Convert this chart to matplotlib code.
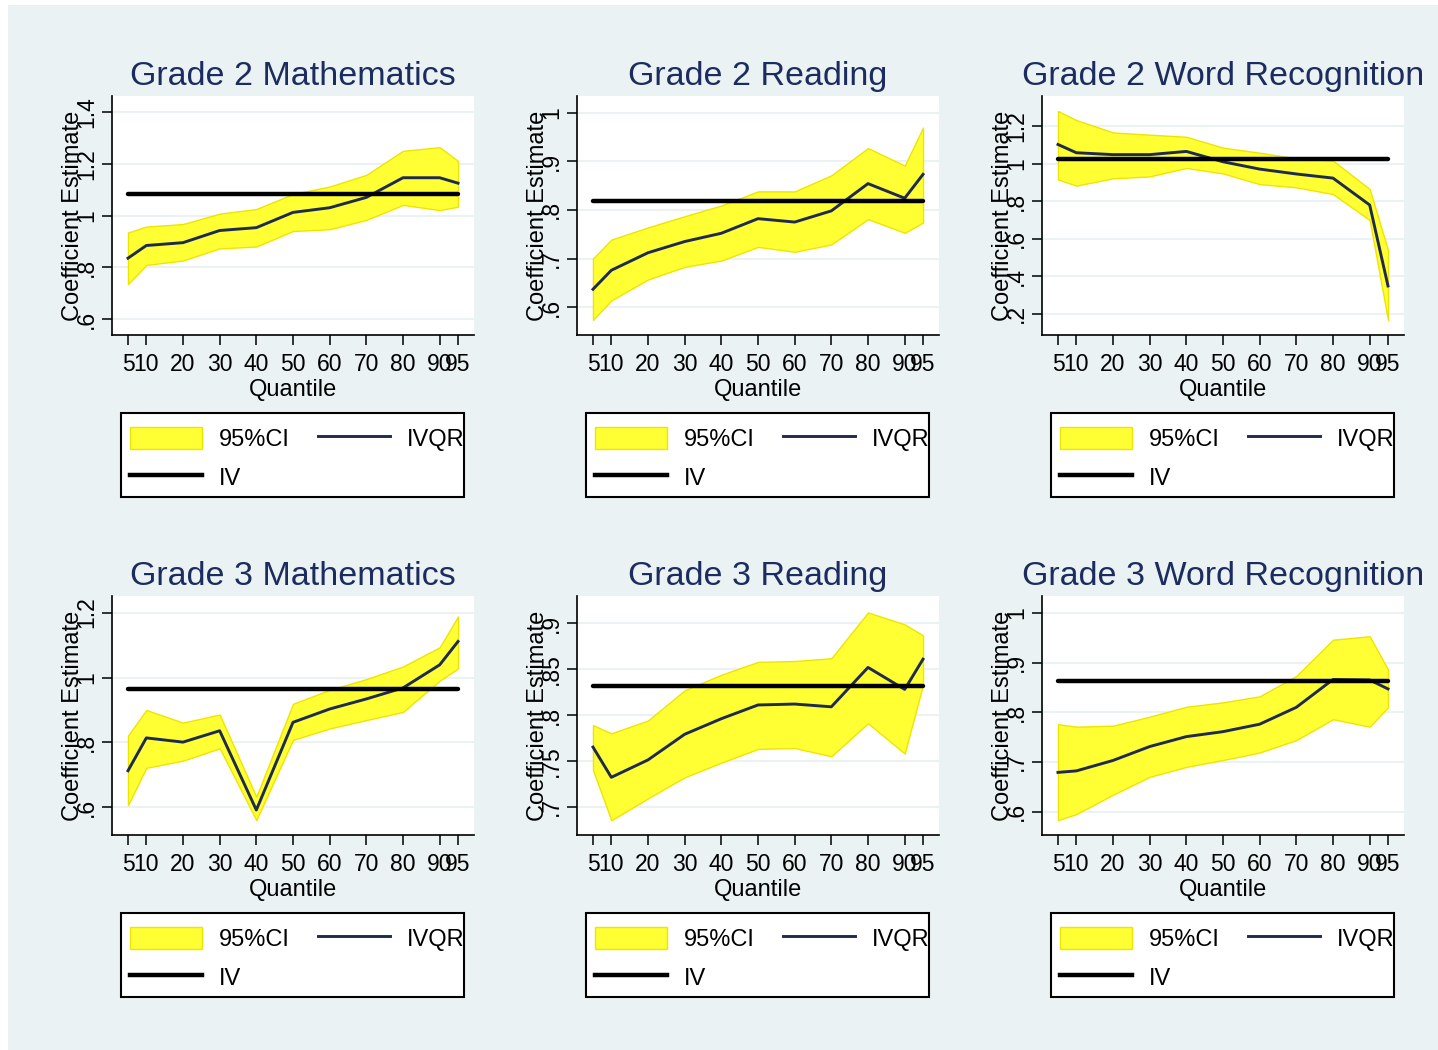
import numpy as np
import matplotlib.pyplot as plt
from matplotlib.patches import Rectangle, Patch
from matplotlib.lines import Line2D

plt.rcParams['font.family'] = ['Liberation Sans', 'DejaVu Sans']

# quantiles at which the IVQR coefficients were estimated
quantiles = [5, 10, 20, 30, 40, 50, 60, 70, 80, 90, 95]

titles = ["Grade 2 Mathematics", "Grade 2 Reading", "Grade 2 Word Recognition",
          "Grade 3 Mathematics", "Grade 3 Reading", "Grade 3 Word Recognition"]

# IVQR point estimates
ivqr_g2_math = [0.836, 0.885, 0.896, 0.943, 0.954, 1.013, 1.031, 1.071, 1.147, 1.147, 1.126]
ivqr_g2_read = [0.637, 0.676, 0.712, 0.735, 0.752, 0.782, 0.775, 0.798, 0.854, 0.824, 0.873]
ivqr_g2_word = [1.102, 1.058, 1.048, 1.048, 1.065, 1.010, 0.971, 0.945, 0.923, 0.780, 0.349]
ivqr_g3_math = [0.713, 0.814, 0.801, 0.836, 0.592, 0.862, 0.903, 0.934, 0.968, 1.039, 1.111]
ivqr_g3_read = [0.765, 0.732, 0.751, 0.779, 0.796, 0.811, 0.812, 0.809, 0.852, 0.828, 0.861]
ivqr_g3_word = [0.679, 0.682, 0.703, 0.731, 0.751, 0.761, 0.776, 0.810, 0.866, 0.865, 0.847]

# upper bounds of the 95% confidence intervals
upper_g2_math = [0.935, 0.958, 0.968, 1.008, 1.026, 1.084, 1.113, 1.158, 1.251, 1.265, 1.212]
upper_g2_read = [0.700, 0.739, 0.764, 0.787, 0.809, 0.838, 0.838, 0.871, 0.927, 0.891, 0.969]
upper_g2_word = [1.280, 1.232, 1.166, 1.154, 1.143, 1.085, 1.058, 1.028, 1.016, 0.865, 0.540]
upper_g3_math = [0.821, 0.900, 0.861, 0.886, 0.633, 0.919, 0.962, 0.995, 1.034, 1.093, 1.188]
upper_g3_read = [0.789, 0.780, 0.794, 0.827, 0.844, 0.858, 0.859, 0.862, 0.912, 0.899, 0.887]
upper_g3_word = [0.776, 0.771, 0.773, 0.791, 0.811, 0.820, 0.832, 0.873, 0.946, 0.953, 0.886]

# lower bounds of the 95% confidence intervals
lower_g2_math = [0.736, 0.810, 0.827, 0.874, 0.881, 0.941, 0.948, 0.984, 1.042, 1.022, 1.035]
lower_g2_read = [0.574, 0.614, 0.657, 0.683, 0.696, 0.724, 0.714, 0.729, 0.781, 0.753, 0.774]
lower_g2_word = [0.916, 0.883, 0.922, 0.932, 0.977, 0.948, 0.891, 0.874, 0.838, 0.700, 0.168]
lower_g3_math = [0.607, 0.722, 0.744, 0.782, 0.561, 0.808, 0.843, 0.869, 0.894, 0.990, 1.028]
lower_g3_read = [0.740, 0.685, 0.709, 0.732, 0.748, 0.763, 0.764, 0.755, 0.791, 0.758, 0.833]
lower_g3_word = [0.583, 0.595, 0.634, 0.670, 0.690, 0.704, 0.719, 0.744, 0.786, 0.771, 0.810]

# 2SLS (IV) estimates, constant across quantiles
iv_estimates = [1.084, 0.819, 1.024, 0.964, 0.832, 0.863]

y_ticks = [[0.6, 0.8, 1.0, 1.2, 1.4],
           [0.6, 0.7, 0.8, 0.9, 1.0],
           [0.2, 0.4, 0.6, 0.8, 1.0, 1.2],
           [0.6, 0.8, 1.0, 1.2],
           [0.7, 0.75, 0.8, 0.85, 0.9],
           [0.6, 0.7, 0.8, 0.9, 1.0]]
y_limits = [(0.539, 1.463), (0.543, 1.034), (0.088, 1.36),
            (0.515, 1.251), (0.669, 0.930), (0.553, 1.034)]

ivqr = [ivqr_g2_math, ivqr_g2_read, ivqr_g2_word, ivqr_g3_math, ivqr_g3_read, ivqr_g3_word]
upper = [upper_g2_math, upper_g2_read, upper_g2_word, upper_g3_math, upper_g3_read, upper_g3_word]
lower = [lower_g2_math, lower_g2_read, lower_g2_word, lower_g3_math, lower_g3_read, lower_g3_word]

BG = '#eaf2f3'
TITLE_COL = '#1c2c5e'
NAVY = '#1e2b4f'
YELLOW = '#ffff33'

W, H = 1438, 1050
fig = plt.figure(figsize=(W / 100, H / 100), dpi=100, facecolor='white')
fig.patches.append(Rectangle((8 / W, 0), 1 - 8 / W, 1 - 5 / H,
                             transform=fig.transFigure, facecolor=BG,
                             edgecolor='none', zorder=-10))


def stata_label(v):
    s = f"{v:g}"
    return s[1:] if s.startswith("0.") else s


def fig_box(x, y, w, h):
    # pixel box (from top-left) -> figure fraction rect
    return [x / W, 1 - (y + h) / H, w / W, h / H]


col_left = [112, 577, 1042]
row_top = [96, 596]
ax_w, ax_h = 362, 239
leg_fs = 17
leg_pad = 0.58  # in font-size units
pad_px = leg_pad * leg_fs * 100 / 72

for k in range(6):
    r, c = divmod(k, 3)
    left, top = col_left[c], row_top[r]
    ax = fig.add_axes(fig_box(left, top, ax_w, ax_h))
    ax.set_facecolor('white')

    ax.fill_between(quantiles, lower[k], upper[k], facecolor=YELLOW,
                    edgecolor='#efe400', linewidth=1, zorder=2)
    ax.plot(quantiles, ivqr[k], color=NAVY, lw=2.1, zorder=3)
    ax.plot(quantiles, [iv_estimates[k]] * len(quantiles), color='black',
            lw=3.2, solid_capstyle='round', zorder=4)

    ax.set_xlim(0.64, 99.36)
    ax.set_ylim(*y_limits[k])
    ax.set_xticks(quantiles)
    ax.set_xticklabels([str(q) for q in quantiles])
    ax.set_yticks(y_ticks[k])
    ax.set_yticklabels([stata_label(v) for v in y_ticks[k]],
                       rotation=90, va='center')

    ax.grid(axis='y', color=BG, lw=1.5, zorder=0)
    ax.set_axisbelow(True)
    for side in ('top', 'right'):
        ax.spines[side].set_visible(False)
    for side in ('left', 'bottom'):
        ax.spines[side].set_linewidth(1.2)
    ax.tick_params(axis='both', length=7.2, width=1.1, labelsize=16.5)
    ax.tick_params(axis='y', pad=3)
    ax.tick_params(axis='x', pad=5.5)

    ax.set_title(titles[k], fontsize=24.5, color=TITLE_COL, pad=8)
    ax.set_xlabel("Quantile", fontsize=17, labelpad=2.3)
    ax.set_ylabel("Coefficient Estimate", fontsize=17, va='center')
    ax.yaxis.set_label_coords(-0.108, 0.5)

    # legend box below each panel
    box_x, box_y = left + 9, top + 317
    fig.patches.append(Rectangle(fig_box(box_x, box_y, 343, 84)[:2],
                                 343 / W, 84 / H, transform=fig.transFigure,
                                 facecolor='white', edgecolor='black',
                                 linewidth=1.5, zorder=-5))
    handles = [Patch(facecolor=YELLOW, edgecolor='#efe400'),
               Line2D([], [], color='black', lw=3.2),
               Line2D([], [], color=NAVY, lw=2.1)]
    ax.legend(handles, ["95%CI", "IV", "IVQR"], ncol=2,
              loc='upper left',
              bbox_to_anchor=((box_x + 9 - pad_px) / W, 1 - box_y / H),
              bbox_transform=fig.transFigure, borderaxespad=0,
              fontsize=leg_fs, frameon=False,
              handlelength=3.05, handleheight=1.05, handletextpad=0.72,
              columnspacing=1.2, borderpad=leg_pad, labelspacing=0.63)

fig.savefig("out.png", dpi=100, facecolor=fig.get_facecolor())
